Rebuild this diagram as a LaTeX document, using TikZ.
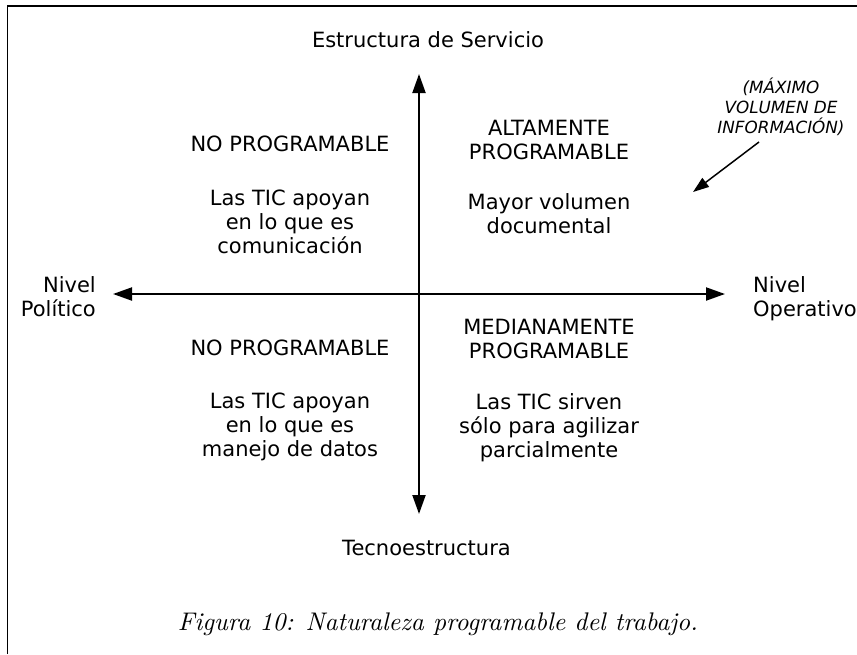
\documentclass[tikz,border=0pt]{standalone}
\usepackage{fontspec}
\newfontfamily\djsans{DejaVu Sans}
\newfontface\capfont{lmroman10-italic}[Extension=.otf]
\usetikzlibrary{arrows.meta}
\tikzset{
  lbl/.style={font=\djsans\fontsize{21}{23.5}\selectfont, inner sep=0pt, anchor=base},
  note/.style={font=\djsans\itshape\fontsize{16.8}{20}\selectfont, inner sep=0pt, anchor=base},
  axis/.style={line width=2pt, {Triangle[length=19pt,width=13pt]}-{Triangle[length=19pt,width=13pt]}},
  pointer/.style={line width=1.5pt, -{Triangle[length=16pt,width=11pt]}},
  frame/.style={line width=1.6pt}
}
\begin{document}
\begin{tikzpicture}[x=1pt,y=-1pt]
\useasboundingbox (0,0) rectangle (857,654);
% frame
\draw[frame] (7.3,654) -- (7.3,6) -- (857,6);
% axes
\coordinate (vtop) at (419,74);
\coordinate (vbot) at (419,514);
\coordinate (hleft) at (113,294);
\coordinate (hright) at (725,294);
\draw[axis] (vtop) -- (vbot);
\draw[axis] (hleft) -- (hright);
% axis labels
\node[lbl] (top) at (428,47) {Estructura de Servicio};
\node[lbl] (bottom) at (426.5,555) {Tecnoestructura};
\node[lbl, anchor=base east] (left1) at (96,292) {Nivel};
\node[lbl, anchor=base east] (left2) at (96,316) {Político};
\node[lbl, anchor=base west] (right1) at (753,292) {Nivel};
\node[lbl, anchor=base west] (right2) at (753,316) {Operativo};
% top-left quadrant
\node[lbl] (tl0) at (290,151) {NO PROGRAMABLE};
\node[lbl] (tl1) at (290,205) {Las TIC apoyan};
\node[lbl] (tl2) at (290,229) {en lo que es};
\node[lbl] (tl3) at (290,253) {comunicación};
% top-right quadrant
\node[lbl] (tr0) at (549,135) {ALTAMENTE};
\node[lbl] (tr1) at (549,159) {PROGRAMABLE};
\node[lbl] (tr2) at (549,209) {Mayor volumen};
\node[lbl] (tr3) at (549,233) {documental};
% bottom-left quadrant
\node[lbl] (bl0) at (290,355) {NO PROGRAMABLE};
\node[lbl] (bl1) at (290,408) {Las TIC apoyan};
\node[lbl] (bl2) at (290,432) {en lo que es};
\node[lbl] (bl3) at (290,456) {manejo de datos};
% bottom-right quadrant
\node[lbl] (br0) at (549,334) {MEDIANAMENTE};
\node[lbl] (br1) at (549,358) {PROGRAMABLE};
\node[lbl] (br2) at (549,409) {Las TIC sirven};
\node[lbl] (br3) at (549,433) {sólo para agilizar};
\node[lbl] (br4) at (549,457) {parcialmente};
% annotation
\node[note] (n1) at (781,93) {(MÁXIMO};
\node[note] (n2) at (781,113) {VOLUMEN DE};
\node[note] (n3) at (781,133) {INFORMACIÓN)};
\coordinate (pstart) at (759,142);
\coordinate (pend) at (693,192);
\draw[pointer] (pstart) -- (pend);
% caption
\node[inner sep=0pt, anchor=base, font=\capfont\fontsize{25.5}{30}\selectfont] (cap) at (438,630) {Figura 10: Naturaleza programable del trabajo.};
\end{tikzpicture}
\end{document}
